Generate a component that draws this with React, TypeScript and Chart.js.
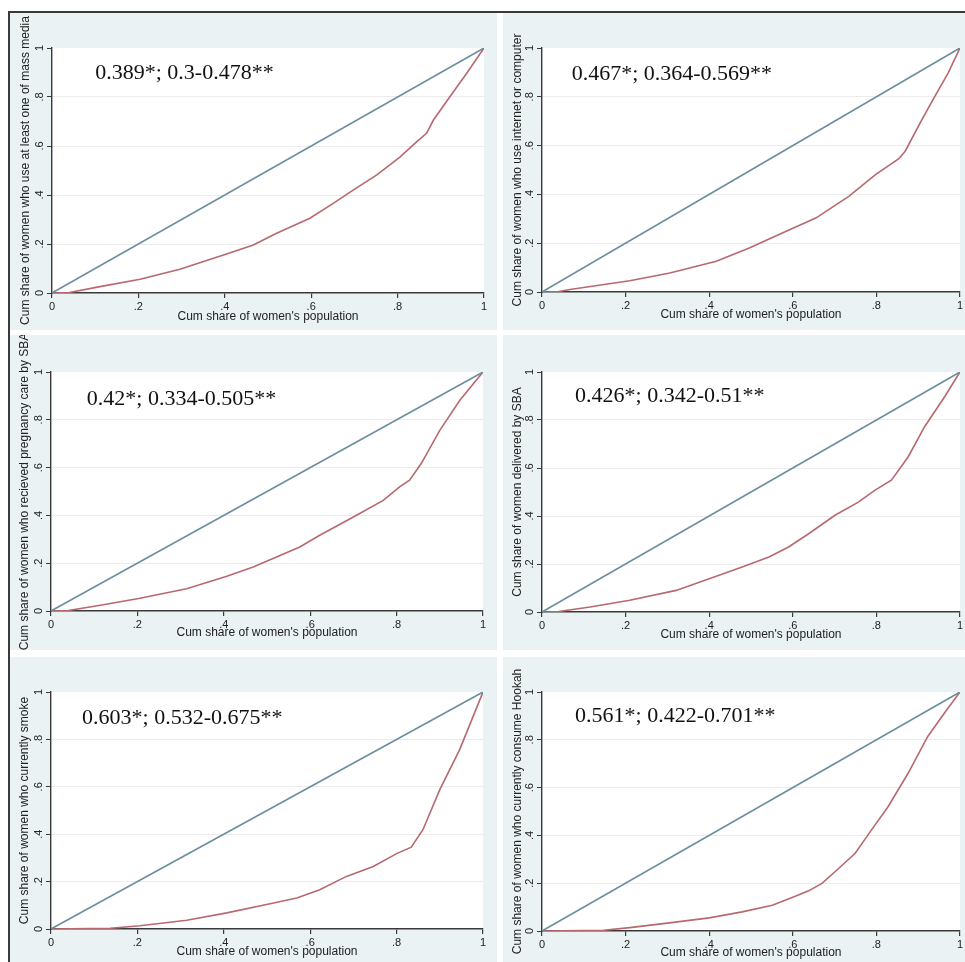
import React, { useEffect, useRef } from 'react';
import { Chart, registerables } from 'chart.js';

Chart.register(...registerables);

// ---- axis ticks ----
const tickValues = [0, 0.2, 0.4, 0.6, 0.8, 1];
const tickLabels = ['0', '.2', '.4', '.6', '.8', '1'];
const xAxisTitle = "Cum share of women's population";

// ---- line of equality ----
const equalityX = [0, 1];
const equalityY = [0, 1];

// ---- Panel 1: mass media ----
const massMediaX = [0, 0.04, 0.111, 0.204, 0.296, 0.404, 0.466, 0.52, 0.597, 0.651, 0.697, 0.752, 0.806, 0.84, 0.867, 0.883, 0.921, 0.96, 1];
const massMediaY = [0, 0.002, 0.026, 0.056, 0.097, 0.159, 0.196, 0.244, 0.305, 0.366, 0.42, 0.482, 0.556, 0.611, 0.652, 0.706, 0.801, 0.897, 1];
const massMediaLabel = 'Cum share of women who use at least one of mass media';
const massMediaText = '0.389*; 0.3-0.478**';

// ---- Panel 2: internet ----
const internetX = [0, 0.04, 0.067, 0.21, 0.306, 0.417, 0.496, 0.575, 0.655, 0.734, 0.798, 0.853, 0.869, 0.909, 0.94, 0.972, 1];
const internetY = [0, 0.002, 0.01, 0.046, 0.078, 0.126, 0.18, 0.242, 0.303, 0.392, 0.481, 0.545, 0.577, 0.706, 0.802, 0.898, 1];
const internetLabel = 'Cum share of women who use internet or computer';
const internetText = '0.467*; 0.364-0.569**';

// ---- Panel 3: pregnancy care ----
const pregnancyX = [0, 0.04, 0.114, 0.203, 0.314, 0.407, 0.468, 0.522, 0.576, 0.622, 0.7, 0.769, 0.807, 0.83, 0.857, 0.9, 0.946, 1];
const pregnancyY = [0, 0.002, 0.024, 0.052, 0.093, 0.145, 0.184, 0.226, 0.268, 0.317, 0.393, 0.463, 0.519, 0.547, 0.617, 0.756, 0.881, 1];
const pregnancyLabel = 'Cum share of women who recieved pregnancy care by SBA';
const pregnancyText = '0.42*; 0.334-0.505**';

// ---- Panel 4: delivery by SBA ----
const deliveryX = [0, 0.04, 0.115, 0.21, 0.321, 0.4, 0.479, 0.543, 0.59, 0.638, 0.701, 0.757, 0.796, 0.836, 0.876, 0.915, 0.963, 1];
const deliveryY = [0, 0.002, 0.021, 0.049, 0.09, 0.139, 0.188, 0.229, 0.271, 0.326, 0.403, 0.458, 0.507, 0.549, 0.646, 0.771, 0.896, 1];
const deliveryLabel = 'Cum share of women delivered by SBA';
const deliveryText = '0.426*; 0.342-0.51**';

// ---- Panel 5: smoke ----
const smokeX = [0, 0.137, 0.206, 0.314, 0.407, 0.499, 0.569, 0.622, 0.684, 0.746, 0.8, 0.834, 0.861, 0.9, 0.946, 1];
const smokeY = [0, 0.003, 0.014, 0.037, 0.068, 0.103, 0.131, 0.166, 0.222, 0.264, 0.318, 0.345, 0.419, 0.588, 0.757, 1];
const smokeLabel = 'Cum share of women who currently smoke';
const smokeText = '0.603*; 0.532-0.675**';

// ---- Panel 6: hookah ----
const hookahX = [0, 0.147, 0.21, 0.305, 0.4, 0.479, 0.551, 0.606, 0.638, 0.67, 0.701, 0.749, 0.788, 0.828, 0.876, 0.923, 0.963, 1];
const hookahY = [0, 0.003, 0.014, 0.034, 0.055, 0.08, 0.108, 0.145, 0.168, 0.199, 0.248, 0.324, 0.422, 0.52, 0.66, 0.814, 0.912, 1];
const hookahLabel = 'Cum share of women who currently consume Hookah';
const hookahText = '0.561*; 0.422-0.701**';

// ---- styles ----
const BG = '#eaf2f3';
const BLUE = '#6a8ea0';
const RED = '#b8686f';
const AXIS = '#3a3a3a';
const SANS = '"Liberation Sans", Arial, sans-serif';
const SERIF = '"Liberation Serif", "Times New Roman", serif';

type PanelCfg = {
  xs: number[]; ys: number[]; yLabel: string; text: string;
  textX: number; textY: number;
  left: number; top: number; w: number; h: number;
  padL: number; padR: number; padT: number; padB: number;
  xTitleOff: number; yTitleOff: number;
};

const panels: PanelCfg[] = [
  { xs: massMediaX, ys: massMediaY, yLabel: massMediaLabel, text: massMediaText, textX: 0.1, textY: 0.873,
    left: 10, top: 13, w: 487, h: 317, padL: 42, padR: 13, padT: 35, padB: 37, xTitleOff: 13, yTitleOff: 16 },
  { xs: internetX, ys: internetY, yLabel: internetLabel, text: internetText, textX: 0.071, textY: 0.869,
    left: 503, top: 13, w: 462, h: 317, padL: 39, padR: 3, padT: 35, padB: 38, xTitleOff: 15, yTitleOff: 15 },
  { xs: pregnancyX, ys: pregnancyY, yLabel: pregnancyLabel, text: pregnancyText, textX: 0.083, textY: 0.862,
    left: 10, top: 335, w: 487, h: 315, padL: 41, padR: 14, padT: 37, padB: 39, xTitleOff: 17, yTitleOff: 15 },
  { xs: deliveryX, ys: deliveryY, yLabel: deliveryLabel, text: deliveryText, textX: 0.079, textY: 0.875,
    left: 503, top: 335, w: 462, h: 315, padL: 39, padR: 3, padT: 37, padB: 38, xTitleOff: 15, yTitleOff: 15 },
  { xs: smokeX, ys: smokeY, yLabel: smokeLabel, text: smokeText, textX: 0.072, textY: 0.865,
    left: 10, top: 657, w: 487, h: 305, padL: 41, padR: 14, padT: 35, padB: 33, xTitleOff: 10, yTitleOff: 15 },
  { xs: hookahX, ys: hookahY, yLabel: hookahLabel, text: hookahText, textX: 0.079, textY: 0.874,
    left: 503, top: 657, w: 462, h: 305, padL: 39, padR: 3, padT: 35, padB: 31, xTitleOff: 9, yTitleOff: 15 },
];

const plotBgPlugin = {
  id: 'plotBg',
  beforeDraw(chart: any) {
    const { ctx, chartArea } = chart;
    ctx.save();
    ctx.fillStyle = '#ffffff';
    ctx.fillRect(chartArea.left, chartArea.top, chartArea.right - chartArea.left, chartArea.bottom - chartArea.top);
    ctx.restore();
  },
};

function makeOverlay(cfg: PanelCfg) {
  return {
    id: 'overlay',
    afterDraw(chart: any) {
      const { ctx } = chart;
      const xs = chart.scales.x;
      const ys = chart.scales.y;
      ctx.save();
      ctx.font = `11px ${SANS}`;
      ctx.fillStyle = '#222';
      ctx.textAlign = 'center';
      ctx.textBaseline = 'middle';
      tickValues.forEach((v, i) => {
        const py = ys.getPixelForValue(v);
        ctx.save();
        ctx.translate(ys.right - 12, py);
        ctx.rotate(-Math.PI / 2);
        ctx.fillText(tickLabels[i], 0, 0);
        ctx.restore();
      });
      ctx.font = `22px ${SERIF}`;
      ctx.fillStyle = '#111';
      ctx.textAlign = 'left';
      ctx.textBaseline = 'alphabetic';
      ctx.fillText(cfg.text, xs.getPixelForValue(cfg.textX), ys.getPixelForValue(cfg.textY));
      ctx.restore();
    },
  };
}

function Panel({ cfg }: { cfg: PanelCfg }) {
  const ref = useRef<HTMLCanvasElement>(null);
  useEffect(() => {
    if (!ref.current) return;
    const chart = new Chart(ref.current, {
      type: 'line',
      data: {
        datasets: [
          {
            data: equalityX.map((x, i) => ({ x, y: equalityY[i] })),
            borderColor: BLUE, borderWidth: 1.6, pointRadius: 0, tension: 0,
          },
          {
            data: cfg.xs.map((x, i) => ({ x, y: cfg.ys[i] })),
            borderColor: RED, borderWidth: 1.6, pointRadius: 0, tension: 0,
          },
        ],
      },
      options: {
        responsive: false,
        animation: false,
        devicePixelRatio: 1,
        layout: { padding: { left: 0, right: cfg.padR, top: cfg.padT, bottom: 0 } },
        plugins: { legend: { display: false }, tooltip: { enabled: false } },
        scales: {
          x: {
            type: 'linear', min: 0, max: 1,
            afterBuildTicks: (s: any) => { s.ticks = tickValues.map((v) => ({ value: v })); },
            afterFit: (s: any) => { s.height = cfg.padB; },
            ticks: {
              callback: (_v: any, i: number) => tickLabels[i],
              font: { family: SANS, size: 11 }, color: '#222', padding: 2,
              maxRotation: 0, minRotation: 0, autoSkip: false,
            },
            grid: { drawOnChartArea: false, drawTicks: true, tickLength: 5, tickColor: AXIS, lineWidth: 1.2 },
            border: { color: AXIS, width: 1.4 },
            title: {
              display: true, text: xAxisTitle, color: '#222',
              font: { family: SANS, size: 12 },
              padding: { top: 0, bottom: cfg.xTitleOff - 7.2 },
            },
          },
          y: {
            type: 'linear', min: 0, max: 1,
            afterBuildTicks: (s: any) => { s.ticks = tickValues.map((v) => ({ value: v })); },
            afterFit: (s: any) => { s.width = cfg.padL; },
            ticks: { display: false },
            grid: {
              drawOnChartArea: true, drawTicks: true, tickLength: 5, tickColor: AXIS, lineWidth: 1,
              color: (ctx: any) => (ctx.tick && (ctx.tick.value === 0 || ctx.tick.value === 1)) ? 'rgba(0,0,0,0)' : '#ececec',
            },
            border: { color: AXIS, width: 1.4 },
            title: {
              display: true, text: cfg.yLabel, color: '#222',
              font: { family: SANS, size: 12 },
              padding: { top: cfg.yTitleOff - 7.2, bottom: 0 },
            },
          },
        },
      } as any,
      plugins: [plotBgPlugin, makeOverlay(cfg)],
    });
    return () => chart.destroy();
  }, [cfg]);
  return (
    <canvas
      ref={ref}
      width={cfg.w}
      height={cfg.h}
      style={{ position: 'absolute', left: cfg.left, top: cfg.top, width: cfg.w, height: cfg.h, background: BG, display: 'block' }}
    />
  );
}

export default function App() {
  return (
    <div style={{ position: 'absolute', left: 0, top: 0, width: 965, height: 962, background: '#ffffff', overflow: 'hidden' }}>
      <div style={{ position: 'absolute', left: 8, top: 11, width: 957, height: 951, borderTop: `2px solid ${AXIS}`, borderLeft: `2px solid ${AXIS}`, boxSizing: 'border-box' }} />
      {panels.map((p, i) => <Panel key={i} cfg={p} />)}
    </div>
  );
}
